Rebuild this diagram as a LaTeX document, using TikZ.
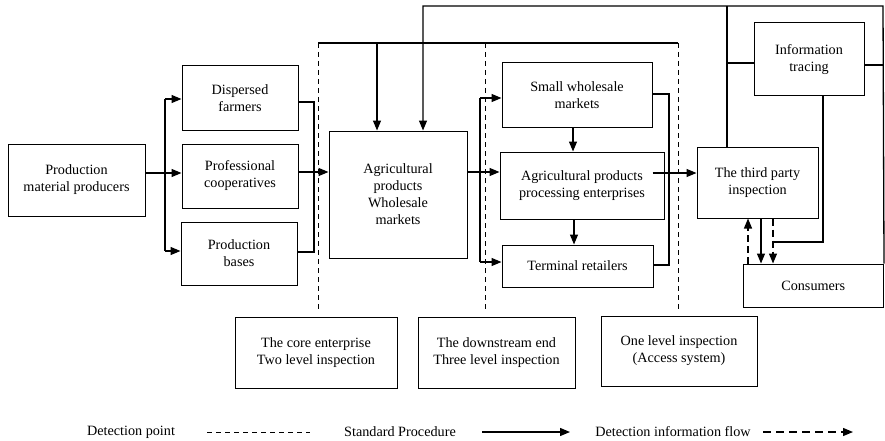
\documentclass[tikz,border=0pt]{standalone}
\usepackage{fontspec}
\setmainfont{Liberation Serif}
\usetikzlibrary{arrows.meta}
\begin{document}
\begin{tikzpicture}[x=1pt,y=-1pt,
  box/.style={draw, line width=1pt, align=center, inner sep=0pt, font=\fontsize{14.2}{17}\selectfont},
  ln/.style={line width=1.1pt},
  arr/.style={line width=1.3pt, -{Triangle[length=10pt,width=8pt]}},
  darr/.style={arr, dash pattern=on 7pt off 4pt},
  det/.style={line width=0.9pt, dash pattern=on 5pt off 4pt},
  lbl/.style={font=\fontsize{14.2}{17}\selectfont, inner sep=0pt}]
\useasboundingbox (0,0) rectangle (885,441);

% boxes
\node[box, minimum width=137pt, minimum height=72pt] (prod) at (76.5,180) {Production\\material producers};
\node[box, minimum width=116pt, minimum height=64pt] (disp) at (240,98) {Dispersed\\farmers};
\node[box, minimum width=116pt, minimum height=64pt] (coop) at (240,176) {Professional\\cooperatives};
\node[box, minimum width=116pt, minimum height=63pt] (base) at (239,253.5) {Production\\bases};
\node[box, minimum width=138pt, minimum height=127pt] (whole) at (398,194.5) {Agricultural\\products\\Wholesale\\markets};
\node[box, minimum width=150pt, minimum height=64pt] (small) at (577,95) {Small wholesale\\markets};
\node[box, minimum width=164pt, minimum height=67pt] (proc) at (582,185.5) {Agricultural products\\processing enterprises};
\node[box, minimum width=151pt, minimum height=42pt] (term) at (577.5,266) {Terminal retailers};
\node[box, minimum width=121pt, minimum height=71pt] (third) at (757.5,182.5) {The third party\\inspection};
\node[box, minimum width=110pt, minimum height=73pt] (info) at (809,59.5) {Information\\tracing};
\node[box, minimum width=140.5pt, minimum height=43pt] (cons) at (813.25,285.5) {Consumers};
\node[box, minimum width=162pt, minimum height=71pt] (core) at (316,352.5) {The core enterprise\\Two level inspection};
\node[box, minimum width=157pt, minimum height=71pt] (down) at (496.5,352.5) {The downstream end\\Three level inspection};
\node[box, minimum width=156pt, minimum height=70pt] (one) at (679,351) {One level inspection\\(Access system)};

% detection points (dashed verticals) and top bar
\coordinate (t1) at (318,43);
\coordinate (t2) at (485,43);
\coordinate (t3) at (678,43);
\draw[ln] (t1) -- (t3);
\draw[det] (t1) -- (318,310);
\draw[det] (t2) -- (485,310);
\draw[det] (t3) -- (678,310);
\draw[arr] (377,43) -- (whole.north -| 377,0);

% upper feedback bar
\coordinate (r1) at (423,6);
\coordinate (r2) at (883,6);
\draw[arr] (cons.north east) -- (r2) -- (r1) -- (whole.north -| r1);
\draw[ln] (727,6) -- (third.north -| 727,0);
\draw[ln] (727,63) -- (info.west |- 0,63);
\draw[ln] (info.east |- 0,65) -- (883,65);

% producers to farms
\coordinate (b1) at (165,173);
\draw[arr] (prod.east |- b1) -- (coop.west |- b1);
\draw[ln] (b1 |- 0,99) -- (b1 |- 0,251);
\draw[arr] (b1 |- 0,99) -- (disp.west |- 0,99);
\draw[arr] (b1 |- 0,251) -- (base.west |- 0,251);
\draw[ln] (disp.east |- 0,102) -| (314,252) -- (base.east |- 0,252);
\draw[arr] (coop.east |- 0,172) -- (whole.west |- 0,172);

% wholesale to downstream
\coordinate (b2) at (480,172);
\draw[arr] (whole.east |- b2) -- (proc.west |- b2);
\draw[ln] (b2 |- 0,98) -- (b2 |- 0,262);
\draw[arr] (b2 |- 0,98) -- (small.west |- 0,98);
\draw[arr] (b2 |- 0,262) -- (term.west |- 0,262);
\draw[arr] (small.south -| 573,0) -- (proc.north -| 573,0);
\draw[arr] (proc.south -| 574,0) -- (term.north -| 574,0);
\draw[ln] (small.east |- 0,94) -| (669,265) -- (term.east |- 0,265);
\draw[arr] ([xshift=-12pt]proc.east |- 0,173) -- (third.west |- 0,173);

% third party and consumers
\draw[darr] (cons.north -| 748,0) -- (third.south -| 748,0);
\draw[arr] (third.south -| 761,0) -- (cons.north -| 761,0);
\draw[darr] (third.south -| 773,0) -- (cons.north -| 773,0);
\draw[ln] (info.south -| 823,0) -- (823,242) -- (773,242);

% legend
\node[lbl] (lg1) at (131,432) {Detection point};
\coordinate (l1a) at (207,432);
\coordinate (l1b) at (310,432);
\draw[det] (l1a) -- (l1b);
\node[lbl] (lg2) at (400,432) {Standard Procedure};
\coordinate (l2a) at (482,432);
\coordinate (l2b) at (570,432);
\draw[arr] (l2a) -- (l2b);
\node[lbl] (lg3) at (673,432) {Detection information flow};
\coordinate (l3a) at (763,432);
\coordinate (l3b) at (853,432);
\draw[arr, dash pattern=on 8pt off 5pt] (l3a) -- (l3b);
\end{tikzpicture}
\end{document}
